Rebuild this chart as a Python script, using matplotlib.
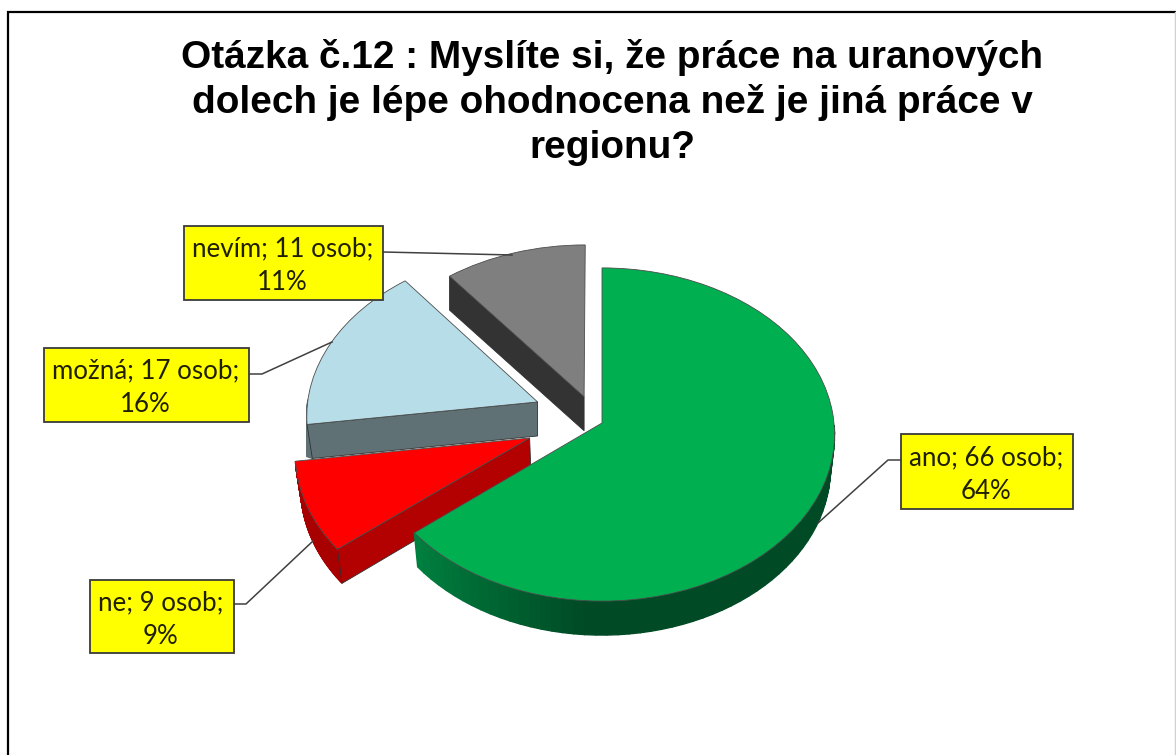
import numpy as np
import matplotlib
matplotlib.use("Agg")
import matplotlib.pyplot as plt
from matplotlib.patches import Polygon, Rectangle
from matplotlib.transforms import Transform
from matplotlib.colors import to_rgb

# data
categories = ["ano", "ne", "možná", "nevím"]
osob = [66, 9, 17, 11]
percent = [64, 9, 16, 11]
title = "Otázka č.12 : Myslíte si, že práce na uranových\ndolech je lépe ohodnocena než je jiná práce v\nregionu?"

# style
top_colors = ["#00b050", "#ff0000", "#b7dee8", "#7f7f7f"]
rim_colors = ["#004a25", "#a80000", "#5f7175", "#333333"]
cut_colors = [None, "#b30000", "#5f7175", "#333333"]
shift = [(0, 0), (-0.31, -0.09), (-0.28, 0.128), (-0.078, 0.16)]
z_order = [8, 6, 4, 2]
boxes = [(901, 434, 172, 75), (90, 580, 144, 73), (44, 348, 205, 74), (184, 226, 199, 74)]
leaders = [
    [(901, 460), (888, 460), (818, 523)],
    [(234, 604), (246, 604), (313, 541)],
    [(249, 374), (262, 374), (332, 342)],
    [(383, 252), (512, 255)],
]
CX, CY, RX, RY, K, DEPTH = 602, 423, 232, 165.8, 0.069, 34


class Tilt(Transform):
    input_dims = 2
    output_dims = 2
    is_separable = False
    has_inverse = False

    def transform_non_affine(self, values):
        values = np.asarray(values, dtype=float)
        s = 1 / (1 + K * values[:, 1])
        return np.column_stack([CX + RX * values[:, 0] * s, CY - RY * values[:, 1] * s])


def lower(p):
    # underside of the pie is a bit narrower than the top, only seen on the front half
    inward = 0.018 if p[1] > CY else 0
    return (p[0] + (CX - p[0]) * inward, p[1] + DEPTH)


def rim_color(i, t):
    if i == 0:
        a = np.array(to_rgb("#00803f"))
        b = np.array(to_rgb(rim_colors[0]))
        return tuple(a + (b - a) * min(t * 5, 1))
    return rim_colors[i]


fig = plt.figure(figsize=(11.76, 7.55), dpi=100)
ax = fig.add_axes([0, 0, 1, 1])
wedges, _ = ax.pie(osob, colors=top_colors, startangle=90, counterclock=False, radius=1)
ax.set_aspect("auto")
ax.set_xlim(0, 1176)
ax.set_ylim(755, 0)
ax.axis("off")

tilt = Tilt()
for i, w in enumerate(wedges):
    off = np.array(shift[i])
    w.set_center(tuple(off))
    w.set_transform(tilt + ax.transData)
    w.set_zorder(z_order[i] + 0.5)
    w.set_edgecolor("#4d4d4d")
    w.set_linewidth(0.6)
    w.set_clip_on(False)

    # wedge angles as pie worked them out
    t1, t2 = w.theta1, w.theta2
    angles = np.radians(np.linspace(t1, t2, 90))
    rim = tilt.transform(np.column_stack([off[0] + np.cos(angles), off[1] + np.sin(angles)]))
    facing = np.sin(angles) < 0.02
    for j in range(len(angles) - 1):
        if facing[j] and facing[j + 1]:
            p, q = rim[j], rim[j + 1]
            c = rim_color(i, j / 89)
            ax.add_patch(Polygon([p, q, lower(q), lower(p)], facecolor=c, edgecolor=c,
                                 linewidth=1.0, zorder=z_order[i]))

    # flat cut face on the side that looks towards us
    if cut_colors[i]:
        edge = np.radians(t2)
        pts = tilt.transform(np.array([off, off + (np.cos(edge), np.sin(edge))]))
        ax.add_patch(Polygon([pts[0], pts[1], lower(pts[1]), lower(pts[0])],
                             facecolor=cut_colors[i], edgecolor="#303030", linewidth=0.6,
                             zorder=z_order[i] + 0.2))

# frame of the chart area
ax.plot([8, 8, 1175], [755, 12, 12], color="black", lw=1.6, zorder=1, solid_joinstyle="miter")
ax.plot([1175, 1175], [12, 755], color="#d0d0d0", lw=1, zorder=1)

ax.text(612, 39, title, family="Liberation Sans", fontweight="bold", fontsize=27.9,
        ha="center", va="top", linespacing=1.29, color="black")

for cat, n, pct, box, line in zip(categories, osob, percent, boxes, leaders):
    xs, ys = zip(*line)
    ax.plot(xs, ys, color="#404040", lw=1.1, zorder=10)
    ax.add_patch(Rectangle(box[:2], box[2], box[3], facecolor="#ffff00", edgecolor="#3a3a3a",
                           linewidth=1.3, zorder=11))
    ax.text(box[0] + box[2] / 2 - 1, box[1] + box[3] / 2 + 3, f"{cat}; {n} osob;\n{pct}%",
            family="Lato", fontsize=18.6, ha="center", va="center", linespacing=1.42,
            color="#202000", zorder=12)

fig.savefig("out.png", dpi=100)
